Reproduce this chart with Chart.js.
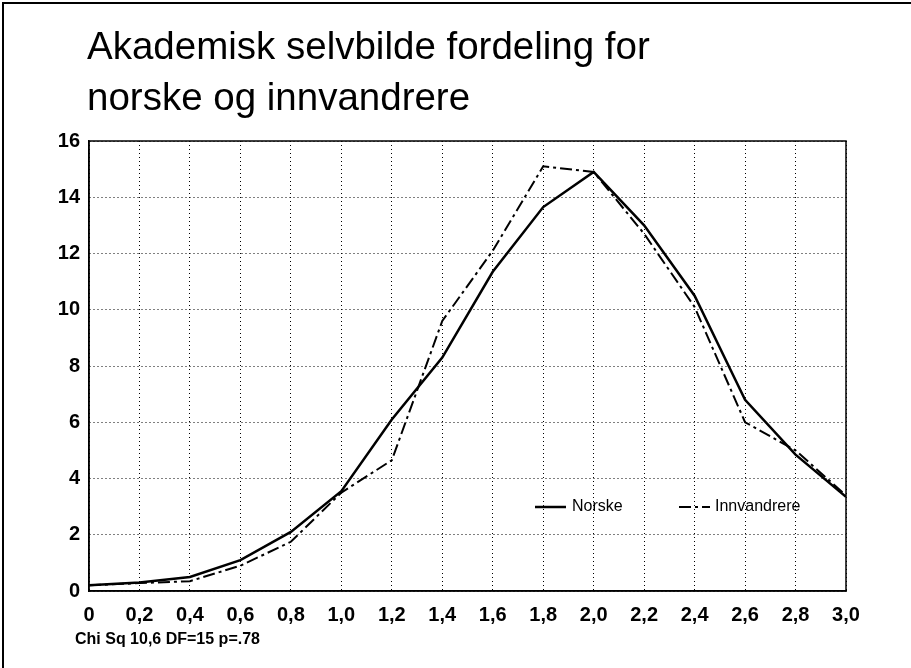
<!DOCTYPE html>
<html>
<head>
<meta charset="utf-8">
<title>Akademisk selvbilde fordeling</title>
<script src="https://cdn.jsdelivr.net/npm/chart.js@4.4.1/dist/chart.umd.min.js"></script>
<style>
body{
    margin:0;
    background:#fff;
}
#wrap{
    width:911px;
    height:668px;
}
</style>
</head>
<body>
<div id="wrap">
    <canvas id="lineChart" width="911" height="668"></canvas>
</div>
<script>

const xValues = [0,0.2,0.4,0.6,0.8,1.0,1.2,1.4,1.6,1.8,2.0,2.2,2.4,2.6,2.8,3.0];

const xTickLabels = ["0","0,2","0,4","0,6","0,8","1,0","1,2","1,4","1,6","1,8","2,0","2,2","2,4","2,6","2,8","3,0"];

const yTickValues = [0,2,4,6,8,10,12,14,16];

const norske = [0.2,0.3,0.5,1.1,2.1,3.55,6.1,8.3,11.35,13.65,14.9,13.0,10.5,6.8,4.85,3.35];

const innvandrere = [0.2,0.28,0.35,0.9,1.75,3.5,4.65,9.6,12.1,15.1,14.9,12.7,10.1,6.0,5.0,3.4];

const seriesNames = ["Norske","Innvandrere"];

const titleLines = ["Akademisk selvbilde fordeling for","norske og innvandrere"];

const noteText = "Chi Sq 10,6 DF=15 p=.78";

const dashDot = [12,4,3,4];

function toPoints(values){

    return values.map((v,i)=>({
        x:xValues[i],
        y:v
    }));
}

const pagePlugin = {

    id:"page",

    beforeDraw(chart){

        const ctx = chart.ctx;

        ctx.save();
        ctx.fillStyle = "#fff";
        ctx.fillRect(0,0,chart.width,chart.height);
        ctx.restore();
    },

    afterDraw(chart){

        const ctx = chart.ctx;
        const area = chart.chartArea;

        ctx.save();

        // scanned page frame (top + left only)
        ctx.strokeStyle = "#000";
        ctx.lineWidth = 2;
        ctx.beginPath();
        ctx.moveTo(3,chart.height);
        ctx.lineTo(3,3);
        ctx.lineTo(chart.width,3);
        ctx.stroke();

        // plot frame
        ctx.lineWidth = 1.5;
        ctx.strokeRect(area.left,area.top,area.right-area.left,area.bottom-area.top);

        // title
        ctx.fillStyle = "#000";
        ctx.font = "38.5px 'Liberation Sans', Arial, sans-serif";
        ctx.textBaseline = "alphabetic";
        ctx.fillText(titleLines[0],87,59);
        ctx.fillText(titleLines[1],87,110);

        // note under the axis
        ctx.font = "bold 16px 'Liberation Sans', Arial, sans-serif";
        ctx.fillText(noteText,75,644);

        // legend inside the plot
        const ly = 507;

        ctx.font = "16px 'Liberation Sans', Arial, sans-serif";
        ctx.textBaseline = "middle";

        ctx.lineWidth = 2.5;
        ctx.setLineDash([]);
        ctx.beginPath();
        ctx.moveTo(535,ly);
        ctx.lineTo(566,ly);
        ctx.stroke();
        ctx.fillText(seriesNames[0],572,ly);

        ctx.lineWidth = 2;
        ctx.setLineDash(dashDot);
        ctx.beginPath();
        ctx.moveTo(679,ly);
        ctx.lineTo(710,ly);
        ctx.stroke();
        ctx.setLineDash([]);
        ctx.fillText(seriesNames[1],715,ly);

        ctx.restore();
    }
};

const lineChart = new Chart(

document.getElementById("lineChart"),

{
    type:"line",

    data:{

        datasets:[

        {
            label:seriesNames[0],
            data:toPoints(norske),
            borderColor:"#000",
            borderWidth:2.5,
            pointRadius:0,
            tension:0
        },

        {
            label:seriesNames[1],
            data:toPoints(innvandrere),
            borderColor:"#000",
            borderWidth:2,
            borderDash:dashDot,
            pointRadius:0,
            tension:0
        }

        ]
    },

    options:{

        responsive:false,
        animation:false,

        layout:{
            padding:{
                left:0,
                top:141,
                right:65,
                bottom:0
            }
        },

        plugins:{
            legend:{display:false},
            tooltip:{enabled:false}
        },

        scales:{

            x:{
                type:"linear",
                min:0,
                max:3,
                afterFit(scale){
                    scale.height = 77;
                },
                afterBuildTicks(scale){
                    scale.ticks = xValues.map(v=>({value:v}));
                },
                grid:{
                    color:"#000",
                    lineWidth:1,
                    drawTicks:false
                },
                border:{
                    display:true,
                    color:"#000",
                    width:1.5,
                    dash:[1,3]
                },
                ticks:{
                    color:"#000",
                    padding:12,
                    maxRotation:0,
                    autoSkip:false,
                    font:{
                        family:"'Liberation Sans', Arial, sans-serif",
                        size:20,
                        weight:"bold"
                    },
                    callback(value,index){
                        return xTickLabels[index];
                    }
                }
            },

            y:{
                min:0,
                max:16,
                afterFit(scale){
                    scale.width = 89;
                },
                afterBuildTicks(scale){
                    scale.ticks = yTickValues.map(v=>({value:v}));
                },
                grid:{
                    color:"#000",
                    lineWidth:1,
                    drawTicks:false
                },
                border:{
                    display:true,
                    color:"#000",
                    width:1.5,
                    dash:[1,3]
                },
                ticks:{
                    color:"#000",
                    padding:9,
                    font:{
                        family:"'Liberation Sans', Arial, sans-serif",
                        size:20,
                        weight:"bold"
                    }
                }
            }
        }
    },

    plugins:[pagePlugin]
});

</script>
</body>
</html>
